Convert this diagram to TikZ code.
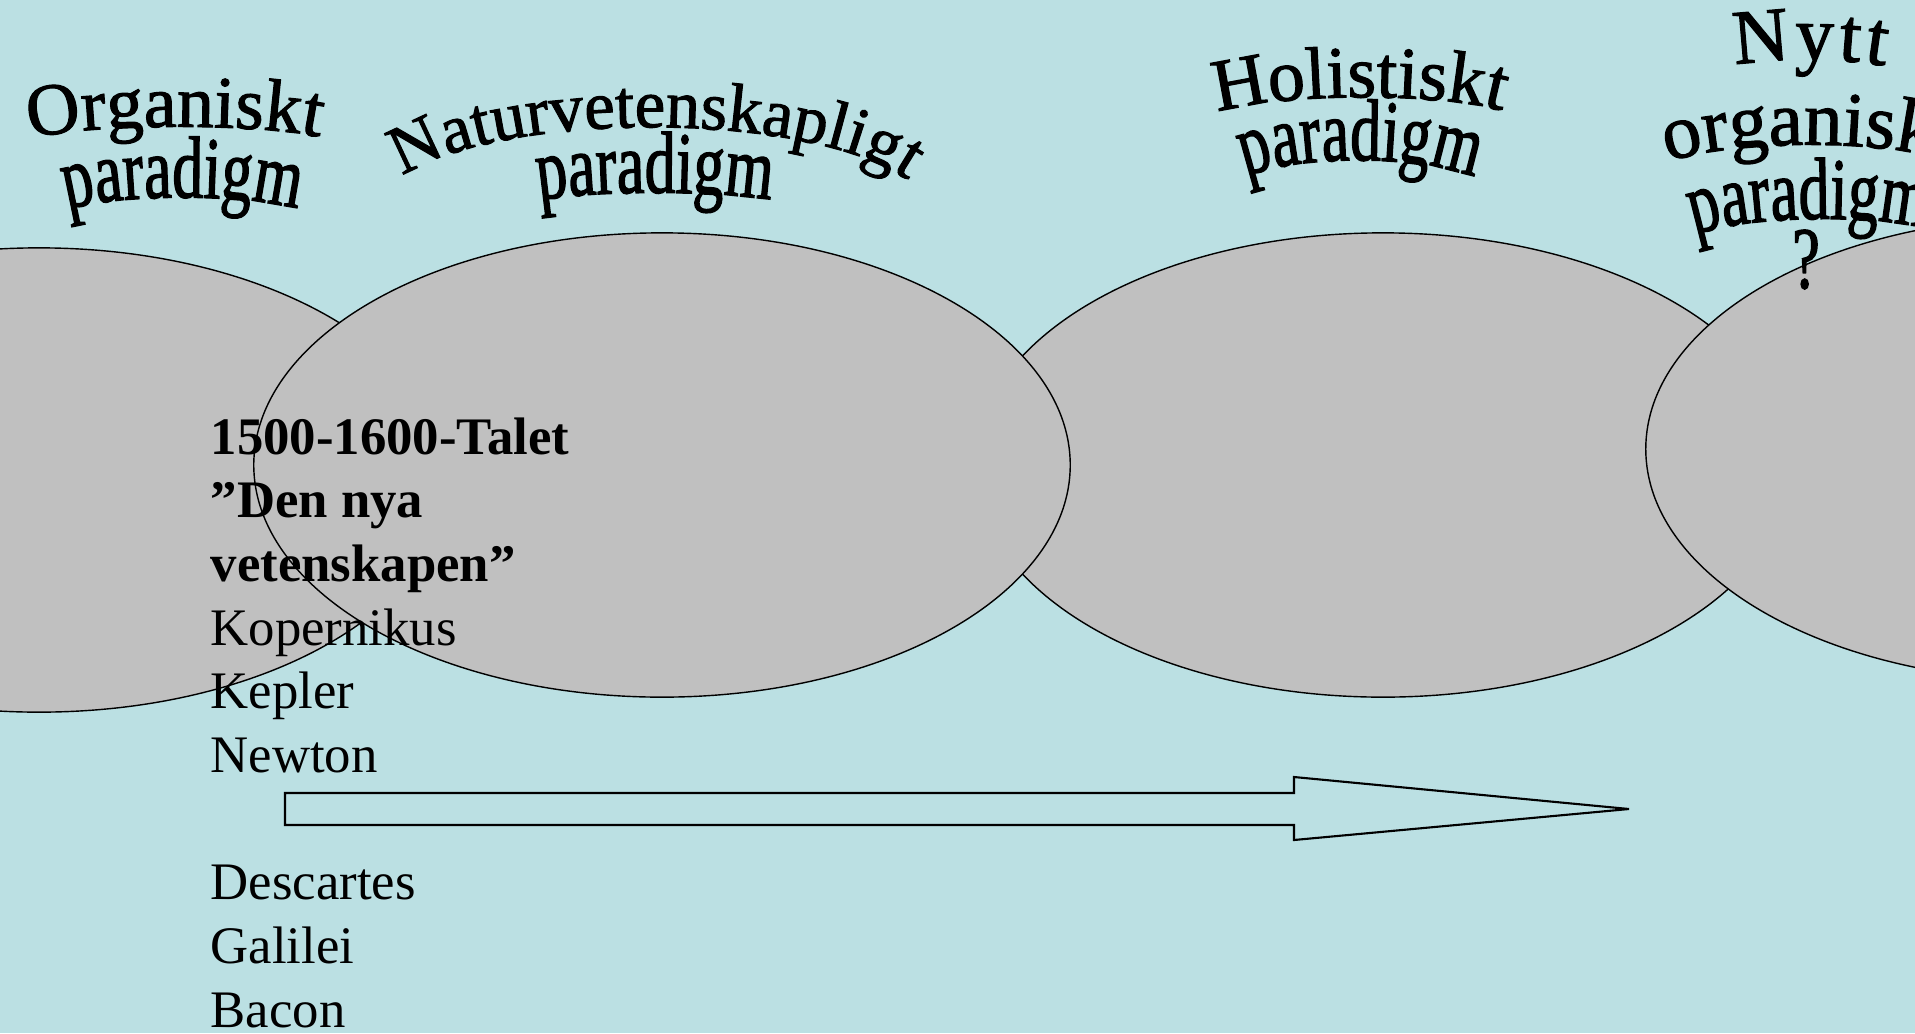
\documentclass[tikz,border=0pt]{standalone}
\usepackage{fontspec}
\setmainfont{Liberation Serif}
\newfontfamily\archserif[FakeBold=1.5]{Liberation Serif}
\newfontfamily\narrowserif[FakeStretch=0.7, FakeBold=1.5]{Liberation Serif}
\usetikzlibrary{shapes.geometric,decorations.text}
\definecolor{slidebg}{RGB}{187,224,227}
\definecolor{ovalgray}{RGB}{192,192,192}
\newcommand{\archfont}{\archserif\fontsize{21}{21}\selectfont}
\newcommand{\pdgfont}{\narrowserif\fontsize{25}{25}\selectfont}

\begin{document}
\begin{tikzpicture}[x=0.01cm, y=-0.01cm,
oval/.style={ellipse, draw, fill=ovalgray, line width=0.4pt, inner sep=0pt,
    minimum width=8.16cm, minimum height=4.64cm},
textline/.style={anchor=base west, inner sep=0pt, font=\fontsize{15}{18}\selectfont},
arch/.style={decorate, decoration={text along path, text align=center, text={#1}}}]
\useasboundingbox (0,0) rectangle (1915,1033);
\fill[slidebg] (0,0) rectangle (1915,1033);
\clip (0,0) rectangle (1915,1033);
\node[oval] (organic) at (39,480) {};
\node[oval] (holistic) at (1383,465) {};
\node[oval] (science) at (662,465) {};
\node[oval] (neworganic) at (2054,449) {};
\path[arch={|\archfont|Organiskt}] (20,142) .. controls (70,122) and (275,122) .. (330,140);
\path[arch={|\pdgfont|paradigm}] (55,214) .. controls (100,192) and (265,192) .. (310,214);
\path[arch={|\archserif\fontsize{19.5}{20}\selectfont|Naturvetenskapligt}] (385,192) .. controls (460,105) and (850,105) .. (925,196);
\path[arch={|\pdgfont|paradigm}] (520,204) .. controls (575,189) and (735,189) .. (790,204);
\path[arch={|\archfont|Holistiskt}] (1200,120) .. controls (1250,90) and (1470,90) .. (1520,118);
\path[arch={|\pdgfont|paradigm}] (1230,184) .. controls (1280,152) and (1440,152) .. (1490,186);
\path[decorate, decoration={text along path, text align=fit to path,
    text={|\archserif\fontsize{22}{22}\selectfont|Nytt}}]
  (1735,65) .. controls (1780,58) and (1840,58) .. (1885,66);
\path[arch={|\archserif\fontsize{22}{22}\selectfont|organiskt}] (1640,174) .. controls (1700,135) and (1920,135) .. (1980,174);
\path[arch={|\pdgfont|paradigm}] (1680,241) .. controls (1730,213) and (1890,213) .. (1940,233);
\node[anchor=base, inner sep=0pt, font=\pdgfont] (question) at (1806,288) {?};
\foreach \txt [count=\i from 0] in {1500-1600-Talet, ”Den nya, vetenskapen”}
  \node[textline] (head\i) at (210,{454+63.7*\i}) {\bfseries\txt};
\foreach \txt/\row in {Kopernikus/3, Kepler/4, Newton/5, Descartes/7, Galilei/8, Bacon/9}
  \node[textline] (\txt) at (210,{454+63.7*\row}) {\txt};
\draw[line width=0.6pt] (285,793) -- (1294,793) -- (1294,777) -- (1629,809)
  -- (1294,840) -- (1294,825) -- (285,825) -- cycle;
\end{tikzpicture}
\end{document}
